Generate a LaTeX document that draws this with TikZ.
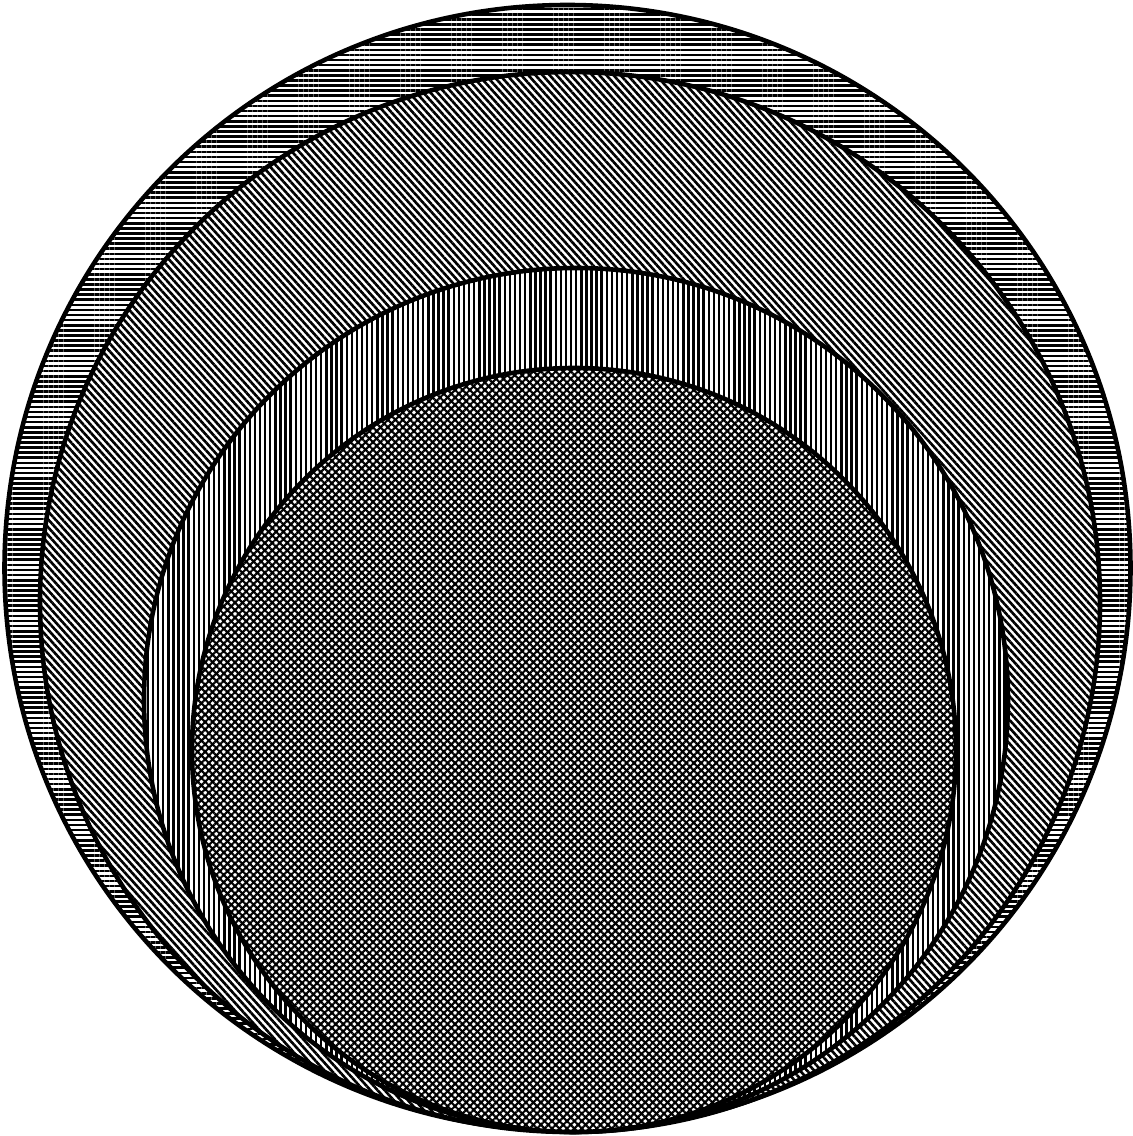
\documentclass[tikz,border=0pt]{standalone}
\usetikzlibrary{patterns.meta}
\tikzset{
  disc edge/.style={
    draw=black,
    line width=1.3pt,        % outline of every disc
    preaction={fill=white}   % hide the disc below
  },
  flat lines/.style={disc edge, pattern={Lines[angle=0, distance=1.45pt, line width=0.75pt]}},
  slant lines/.style={disc edge, pattern={Lines[angle=-48, distance=1.5pt, line width=0.75pt]}},
  upright lines/.style={disc edge, pattern={Lines[angle=90, distance=1.45pt, line width=0.7pt]}},
  cross lines/.style={disc edge, pattern={Hatch[angle=45, distance=1.5pt, line width=0.6pt]}}
}

\begin{document}
\begin{tikzpicture}[x=0.01cm, y=0.01cm]
    \useasboundingbox (0,0) rectangle (1133,1136);

    % Four discs, all touching near the bottom
    \draw[flat lines]    (567.5,568) circle[radius=563];
    \draw[slant lines]   (570,534)   circle[radius=530];
    \draw[upright lines] (576,436)   circle[radius=432];
    \draw[cross lines]   (574,386)   circle[radius=382];
\end{tikzpicture}
\end{document}
